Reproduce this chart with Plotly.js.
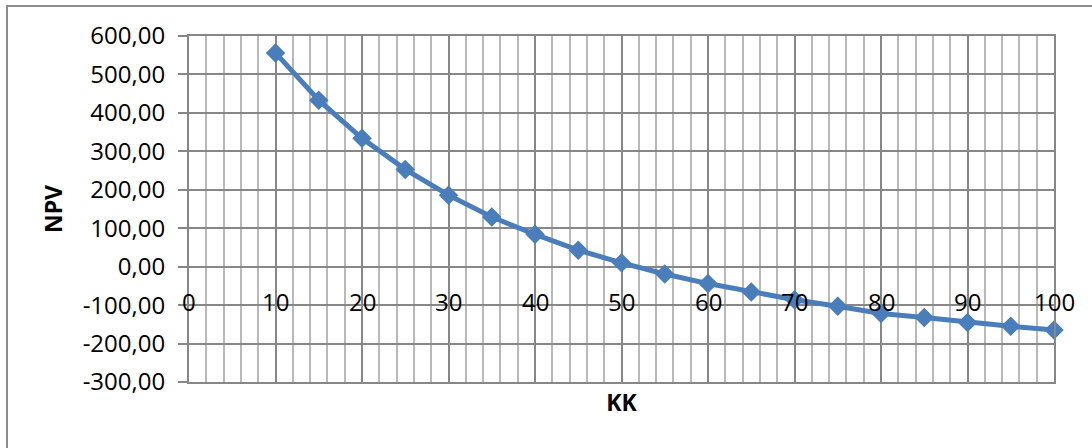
<!DOCTYPE html>
<html>
<head>
<meta charset="utf-8">
<script src="https://cdn.plot.ly/plotly-3.0.1.min.js"></script>
<style>
  html, body { margin: 0; padding: 0; background: #ffffff; overflow: hidden; }
  #frame {
    position: absolute; left: 6px; top: 5px; width: 1200px; height: 600px;
    border-left: 2px solid #8c8c8c; border-top: 2px solid #8c8c8c;
  }
  #chart { position: absolute; left: 0; top: 0; width: 1092px; height: 448px; }
</style>
</head>
<body>
<div id="frame"></div>
<div id="chart"></div>
<script>
// KK (discount rate, %) against NPV
const kk = [10, 15, 20, 25, 30, 35, 40, 45, 50, 55, 60, 65, 70, 75, 80, 85, 90, 95, 100];
const npv = [556, 433, 334, 253, 186, 129, 84, 43, 10, -19, -44, -66, -86, -103, -122, -132, -145, -155, -165];

// axis ticks and their labels
const xTicks = [0, 10, 20, 30, 40, 50, 60, 70, 80, 90, 100];
const xTickText = ['0', '10', '20', '30', '40', '50', '60', '70', '80', '90', '100'];
const yTicks = [600, 500, 400, 300, 200, 100, 0, -100, -200, -300];
const yTickText = ['600,00', '500,00', '400,00', '300,00', '200,00', '100,00', '0,00', '-100,00', '-200,00', '-300,00'];

const FONT = 'Open Sans, Liberation Sans, sans-serif';
const GRID = '#878787';
const MINOR = '#b9b9b9';
const BLUE = '#4a7ebb';

const trace = {
  x: kk, y: npv, type: 'scatter', mode: 'lines+markers',
  line: { color: BLUE, width: 5 },
  marker: { symbol: 'diamond', size: 15, color: BLUE },
  cliponaxis: false,
  hoverinfo: 'x+y', showlegend: false
};

// x labels sit just under the horizontal axis, which crosses at NPV = 0
const xLabels = xTicks.map((v, i) => ({
  x: v, y: 0, xref: 'x', yref: 'y', text: xTickText[i], showarrow: false,
  xanchor: 'center', yanchor: 'middle', yshift: -35,
  font: { family: FONT, size: 24, color: '#000000' }
}));

const layout = {
  width: 1092, height: 448,
  margin: { l: 189, r: 38, t: 36, b: 66, pad: 0 },
  paper_bgcolor: 'rgba(0,0,0,0)', plot_bgcolor: 'rgba(0,0,0,0)',
  font: { family: FONT, size: 24, color: '#000000' },
  xaxis: {
    range: [0, 100], tickvals: xTicks, showticklabels: false, ticks: '',
    showgrid: true, gridcolor: GRID, gridwidth: 2,
    minor: { dtick: 2, tick0: 0, showgrid: true, gridcolor: MINOR, gridwidth: 2 },
    zeroline: false, showline: true, mirror: true, linecolor: GRID, linewidth: 2,
    title: { text: 'KK', font: { family: FONT, size: 23, color: '#000000', weight: 'bold' }, standoff: 12 },
    fixedrange: true
  },
  yaxis: {
    range: [-300, 600], tickvals: yTicks, ticktext: yTickText,
    ticks: 'outside', ticklen: 9, tickcolor: GRID, tickwidth: 2,
    ticklabelstandoff: 8,
    showgrid: true, gridcolor: GRID, gridwidth: 2,
    zeroline: false, showline: true, mirror: true, linecolor: GRID, linewidth: 2,
    title: { text: 'NPV', font: { family: FONT, size: 23, color: '#000000', weight: 'bold' }, standoff: 14 },
    fixedrange: true
  },
  annotations: xLabels
};

Plotly.newPlot('chart', [trace], layout, { staticPlot: true, displayModeBar: false });
</script>
</body>
</html>
